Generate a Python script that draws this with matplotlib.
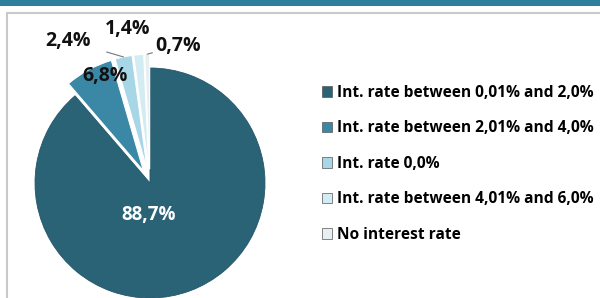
import numpy as np
import matplotlib.pyplot as plt
from matplotlib.patches import Rectangle

plt.rcParams['font.family'] = ['Open Sans', 'DejaVu Sans']

# data
categories = ['Int. rate between 0,01% and 2,0%',
              'Int. rate between 2,01% and 4,0%',
              'Int. rate 0,0%',
              'Int. rate between 4,01% and 6,0%',
              'No interest rate']
shares = [88.7, 6.8, 2.4, 1.4, 0.7]
value_labels = ['88,7%', '6,8%', '2,4%', '1,4%', '0,7%']
colors = ['#2a6276', '#3a88a6', '#a7d6e6', '#d3ebf3', '#e8eff1']

fig = plt.figure(figsize=(6, 2.98), dpi=100)

# top bar and frame
fig.patches.append(Rectangle((0, 1 - 6 / 298), 1, 6 / 298, transform=fig.transFigure,
                             facecolor='#2e7f9b', edgecolor='none', zorder=0))
fig.patches.append(Rectangle((7 / 600, -0.05), 1.0, 1 - 13 / 298 + 0.05, transform=fig.transFigure,
                             facecolor='none', edgecolor='#c9c9c9', linewidth=1.5, zorder=0))

R = 115
cx, cy = 150, 298 - 183
side = 2.5 * R
ax = fig.add_axes([(cx - side / 2) / 600, (cy - side / 2) / 298, side / 600, side / 298])

explode = [0, 0.12, 0.12, 0.12, 0.12]
wedges, _ = ax.pie(shares, colors=colors, startangle=90, counterclock=False,
                   explode=explode, radius=1,
                   wedgeprops=dict(edgecolor='white', linewidth=0.8))
wedges[0].set_edgecolor('#24556a')
wedges[0].set_linewidth(0.6)
ax.set_xlim(-1.25, 1.25)
ax.set_ylim(-1.25, 1.25)
ax.set_aspect('equal')
ax.axis('off')

# label placement (radius, angle in degrees) and whether a leader line is drawn
label_pos = [(0.28, -93), (1.01, 112.8), (1.43, 120), (1.35, 98.2), (1.22, 78.5)]
leader = [False, False, True, False, True]
for i, w in enumerate(wedges):
    r, a = label_pos[i]
    tx, ty = r * np.cos(np.radians(a)), r * np.sin(np.radians(a))
    col = 'white' if i == 0 else '#111111'
    fs = 13.5 if i == 0 else 14
    if leader[i]:
        mid = np.radians((w.theta1 + w.theta2) / 2)
        ex = 1 + explode[i]
        px, py = ex * np.cos(mid), ex * np.sin(mid)
        ax.annotate(value_labels[i], xy=(px, py), xytext=(tx, ty), ha='center', va='center',
                    fontsize=fs, fontweight='bold', color=col,
                    arrowprops=dict(arrowstyle='-', color='#777777', lw=0.8,
                                    shrinkA=10, shrinkB=0))
    else:
        ax.text(tx, ty, value_labels[i], ha='center', va='center',
                fontsize=fs, fontweight='bold', color=col)

for w in wedges:
    w.set_clip_on(False)

leg = fig.legend(wedges, categories, loc='upper left', bbox_to_anchor=(308 / 600, 1 - 71 / 298),
                 frameon=False, handlelength=0.65, handleheight=0.65, handletextpad=0.3,
                 labelspacing=1.25, prop=dict(weight='bold', size=11.2))
for h in leg.legend_handles:
    h.set_edgecolor('#555555')
    h.set_linewidth(0.5)

fig.savefig('out.png', dpi=100)
